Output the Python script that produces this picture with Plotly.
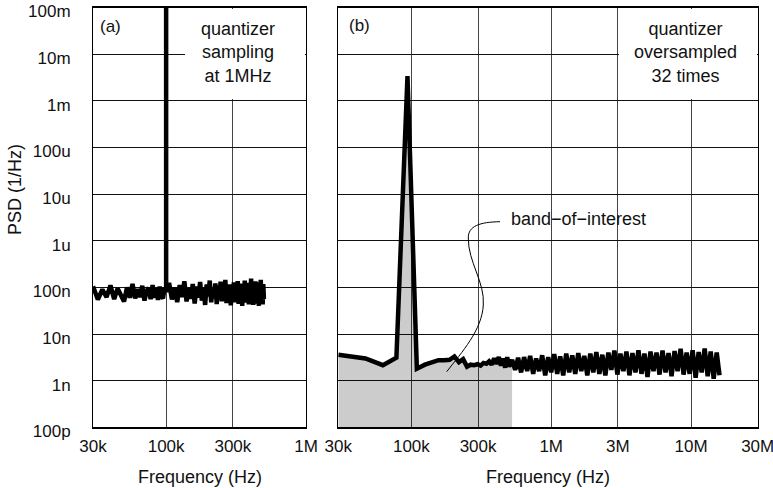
import plotly.graph_objects as go

# ---------------- data ----------------
# Panel (a): quantizer sampling at 1 MHz  (frequency in kHz, PSD in n/Hz)
a_freq_khz = [30, 32.5, 35, 37.5, 40, 42.5, 45, 47.5, 50, 52.5, 55, 57.5, 60, 62.5,
              65, 67.5, 70, 72.5, 75, 77.5, 80, 82.5, 85, 87.5, 90, 92.5, 95, 97.5,
              100, 100, 100,
              105, 110, 115, 120, 125, 130, 135, 140, 145, 150, 155, 160, 165, 170, 175, 180,
              185, 190, 195, 200, 205, 210, 215, 220, 225, 230, 235, 240, 245, 250, 255, 260,
              265, 270, 275, 280, 285, 290, 295, 300, 305, 310, 315, 320, 325, 330, 335, 340,
              345, 350, 355, 360, 365, 370, 375, 380, 385, 390, 395, 400, 405, 410, 415, 420,
              425, 430, 435, 440, 445, 450, 455, 460, 465, 470, 475, 480, 485, 490, 495, 500]
a_psd_n = [105, 55, 90, 62, 110, 56, 95, 68, 50, 100, 60, 118, 58, 92,
           62, 108, 52, 84, 98, 56, 112, 60, 95, 54, 104, 64, 58, 100,
           80, 1e9, 80,
           125, 55, 100, 48, 112, 62, 135, 50, 95, 57, 118, 45, 104, 60, 130, 52,
           100, 42, 115, 64, 140, 48, 94, 58, 122, 44, 108, 55, 132, 50, 102, 62,
           145, 46, 98, 53, 116, 41, 106, 60, 128, 48, 100, 56, 136, 44, 110, 52,
           120, 40, 104, 63, 140, 47, 96, 54, 125, 43, 112, 58, 155, 50, 102, 42,
           120, 56, 134, 45, 106, 51, 128, 40, 114, 60, 145, 47, 104, 43, 118, 56]

# Panel (b): quantizer oversampled 32 times
b_freq_khz = [30, 46.9, 62.5, 78.1, 93.75, 109.4, 125, 140.6, 156.3, 171.9, 187.5, 203.1,
              218.8, 234.4, 250, 265.6, 281.3, 296.9, 312.5, 328.1, 343.8, 359.4, 375,
              390.6, 406.3, 421.9, 437.5, 453.1, 468.8, 484.4, 500,
              525, 552, 580, 609, 640, 673, 707, 743, 780, 820, 862, 906, 952, 1000,
              1051, 1104, 1160, 1219, 1281, 1346, 1415, 1486, 1562, 1641, 1725, 1812,
              1904, 2001, 2103, 2210, 2322, 2440, 2564, 2694, 2831, 2975, 3126, 3285,
              3452, 3627, 3812, 4005, 4209, 4423, 4647, 4884, 5132, 5392, 5666, 5954,
              6257, 6575, 6909, 7260, 7629, 8017, 8424, 8852, 9302, 9775, 10271, 10793,
              11342, 11918, 12524, 13160, 13829, 14532, 15270, 16000]
b_psd_n = [3.6, 3.0, 2.15, 3.1, 3.4e6, 1.8, 2.2, 2.55, 2.75, 2.75, 2.8, 3.3,
           2.5, 2.9, 2.0, 2.2, 2.15, 2.25, 2.1, 2.4, 2.3, 2.6, 2.2,
           3.0, 2.3, 3.2, 2.1, 3.0, 1.9, 3.2, 2.0,
           2.8, 1.7, 3.1, 1.5, 3.2, 1.6, 3.4, 1.4, 3.0, 1.6, 3.5, 1.3, 3.2, 1.5,
           3.7, 1.4, 3.3, 1.3, 3.8, 1.5, 3.5, 1.4, 3.9, 1.6, 3.4, 1.3,
           3.8, 1.5, 4.1, 1.4, 3.6, 1.3, 4.0, 1.7, 4.4, 1.35, 3.8, 1.6,
           4.2, 1.3, 3.9, 1.5, 4.5, 1.4, 3.8, 1.2, 4.2, 1.6, 4.0, 1.35,
           4.4, 1.5, 3.9, 1.25, 4.3, 1.6, 4.8, 1.35, 4.0, 1.4, 4.5, 1.15,
           4.1, 1.5, 4.9, 1.25, 4.2, 1.1, 4.0, 1.3]
band_end_khz = 525   # shaded band-of-interest ends here

y_tickvals = [1e-10, 1e-9, 1e-8, 1e-7, 1e-6, 1e-5, 1e-4, 1e-3, 1e-2, 1e-1]
y_ticktext = ["100p", "1n", "10n", "100n", "1u", "10u", "100u", "1m", "10m", "100m"]
xa_tickvals = [3e4, 1e5, 3e5, 1e6]
xa_ticktext = ["30k", "100k", "300k", "1M"]
xb_tickvals = [3e4, 1e5, 3e5, 1e6, 3e6, 1e7, 3e7]
xb_ticktext = ["30k", "100k", "300k", "1M", "3M", "10M", "30M"]

# ---------------- figure ----------------
W, H = 773, 488
FONT = "Liberation Sans, Arial, sans-serif"

ax_hz = [f * 1e3 for f in a_freq_khz]
ay = [v * 1e-9 for v in a_psd_n]
bx_hz = [f * 1e3 for f in b_freq_khz]
by = [v * 1e-9 for v in b_psd_n]
fill_x = [x for x in bx_hz if x <= band_end_khz * 1e3]
fill_y = by[:len(fill_x)]

fig = go.Figure()
fig.add_trace(go.Scatter(x=fill_x, y=fill_y, xaxis="x2", yaxis="y2", mode="lines",
                         line=dict(width=0), fill="tozeroy",
                         fillcolor="rgba(0,0,0,0.2)", hoverinfo="skip"))
fig.add_trace(go.Scatter(x=ax_hz, y=ay, xaxis="x", yaxis="y", mode="lines",
                         line=dict(color="black", width=4.5)))
fig.add_trace(go.Scatter(x=bx_hz, y=by, xaxis="x2", yaxis="y2", mode="lines",
                         line=dict(color="black", width=4.5)))

ydom = [1 - 427.3 / H, 1 - 7.5 / H]
common_x = dict(type="log", showline=True, mirror=True, linecolor="black", linewidth=2,
                showgrid=True, gridcolor="#444", gridwidth=1, ticks="",
                ticklabelstandoff=2, tickfont=dict(family=FONT, size=17, color="#111"),
                zeroline=False, automargin=False, ticklabeloverflow="allow")
common_y = dict(type="log", range=[-10, -1], showline=True, mirror=True, linecolor="black",
                linewidth=1, showgrid=True, gridcolor="#111", gridwidth=1, ticks="",
                tickvals=y_tickvals, ticktext=y_ticktext, domain=ydom, zeroline=False,
                tickfont=dict(family=FONT, size=17, color="#111"),
                automargin=False, ticklabeloverflow="allow")

fig.update_layout(
    width=W, height=H, margin=dict(l=0, r=0, t=0, b=0, pad=0, autoexpand=False),
    paper_bgcolor="white", plot_bgcolor="white", showlegend=False,
    xaxis=dict(common_x, domain=[93 / W, 306 / W], range=[4.4771, 6.0],
               tickvals=xa_tickvals, ticktext=xa_ticktext, anchor="y"),
    yaxis=dict(common_y, anchor="x", ticklabelstandoff=18, ticklabelshift=4),
    xaxis2=dict(common_x, domain=[338.3 / W, 757.7 / W], range=[4.4771, 7.4771],
                tickvals=xb_tickvals, ticktext=xb_ticktext, anchor="y2"),
    yaxis2=dict(common_y, anchor="x2", showticklabels=False),
)

def px(x, y):
    return x / W, 1 - y / H

# white boxes behind the panel captions (hide gridlines there)
def white_box(x0, y0, x1, y1):
    X, Y = px((x0 + x1) / 2, (y0 + y1) / 2)
    fig.add_annotation(text="", x=X, y=Y, xref="paper", yref="paper", showarrow=False,
                       width=x1 - x0, height=y1 - y0, bgcolor="white", borderpad=0,
                       borderwidth=0, xanchor="center", yanchor="middle")

white_box(185, 9, 305, 99)
white_box(619, 9, 757, 99)

def ann(text, x, y, size=18, angle=0):
    X, Y = px(x, y)
    fig.add_annotation(text=text, x=X, y=Y, xref="paper", yref="paper", showarrow=False,
                       font=dict(family=FONT, size=size, color="#111"), textangle=angle,
                       xanchor="center", yanchor="middle")

ann("(a)", 110, 27, 17)
ann("(b)", 359, 25, 17)
ann("quantizer<br>sampling<br>at 1MHz", 238, 53)
ann("quantizer<br>oversampled<br>32 times", 685, 53)
ann("band\u2212of\u2212interest", 578, 219)
ann("Frequency (Hz)", 200, 477)
ann("Frequency (Hz)", 548, 477)
ann("PSD (1/Hz)", 15, 190, 18, -90)

# leader line for "band-of-interest"
pts = [(500, 221.7), (480, 222), (468, 226), (468.3, 238),
       (468, 262), (485, 282), (483.3, 305),
       (482, 330), (462, 352), (446.7, 371.7)]
p = [px(*q) for q in pts]
path = "M {:.5f},{:.5f}".format(*p[0])
for i in range(1, len(p), 3):
    path += " C {:.5f},{:.5f} {:.5f},{:.5f} {:.5f},{:.5f}".format(*p[i], *p[i + 1], *p[i + 2])
fig.add_shape(type="path", path=path, xref="paper", yref="paper",
              line=dict(color="black", width=1))

fig.write_html("out.html")
